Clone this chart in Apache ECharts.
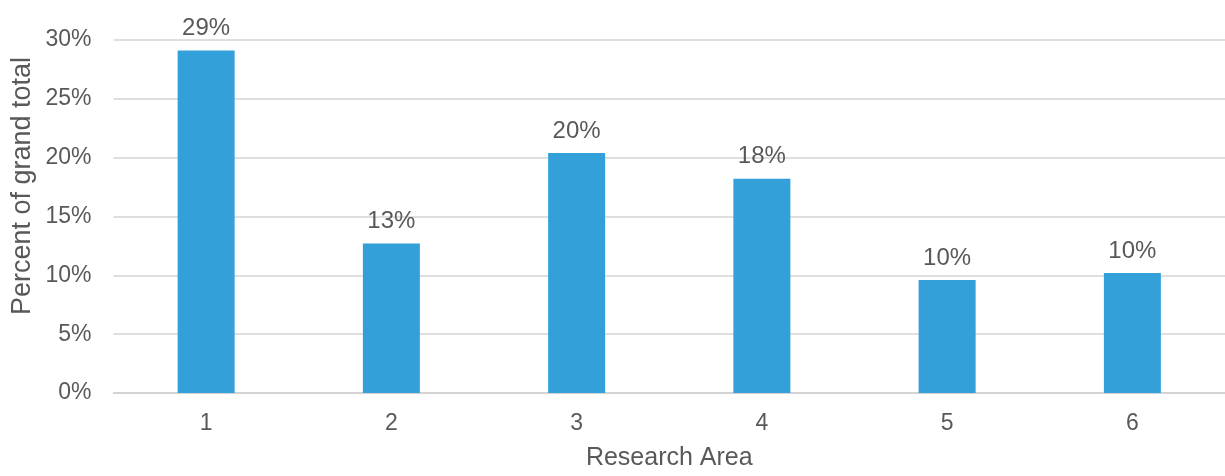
<!DOCTYPE html>
<html>
<head>
<meta charset="utf-8">
<script src="https://cdn.jsdelivr.net/npm/echarts@6/dist/echarts.min.js"></script>
<style>
  html, body { margin: 0; padding: 0; background: #fff; }
  #chart { width: 1225px; height: 476px; }
</style>
</head>
<body>
<div id="chart"></div>
<script>
const areas = ["1", "2", "3", "4", "5", "6"];
const percents = [29.1, 12.7, 20.4, 18.2, 9.6, 10.2];
const yTicks = [0, 5, 10, 15, 20, 25, 30];

const textColor = "#595959";
const font = "Liberation Sans, Arial, sans-serif";

const chart = echarts.init(document.getElementById("chart"));
chart.setOption({
  animation: false,
  grid: { left: 113.5, top: 40, width: 1116, height: 358.5, containLabel: false },
  xAxis: {
    type: "category",
    data: areas,
    name: "Research Area",
    nameLocation: "middle",
    nameGap: 53,
    nameTextStyle: { color: textColor, fontSize: 25, fontFamily: font },
    axisLine: { show: true, lineStyle: { color: "#d0d0d0", width: 1.5 } },
    axisTick: { show: false },
    axisLabel: { color: textColor, fontSize: 23, fontFamily: font, margin: 19 },
  },
  yAxis: {
    type: "value",
    min: yTicks[0],
    max: yTicks[yTicks.length - 1],
    interval: 5,
    axisLine: { show: false },
    axisTick: { show: false },
    axisLabel: {
      color: textColor, fontSize: 23, fontFamily: font, margin: 22,
      formatter: (v) => v + "%",
    },
    splitLine: { lineStyle: { color: "#d4d4d4", width: 1.5 } },
  },
  graphic: [
    {
      type: "text",
      x: 23,
      y: 186,
      rotation: Math.PI / 2,
      style: {
        text: "Percent of grand total",
        fill: textColor,
        fontSize: 27,
        fontFamily: font,
        align: "center",
        verticalAlign: "middle",
      },
    },
  ],
  series: [
    {
      type: "bar",
      data: percents,
      barWidth: 57,
      itemStyle: { color: "#33a0da" },
      label: {
        show: true,
        position: "top",
        distance: 10,
        color: textColor,
        fontSize: 24,
        fontFamily: font,
        formatter: (p) => Math.round(p.value) + "%",
      },
    },
  ],
});
</script>
</body>
</html>
